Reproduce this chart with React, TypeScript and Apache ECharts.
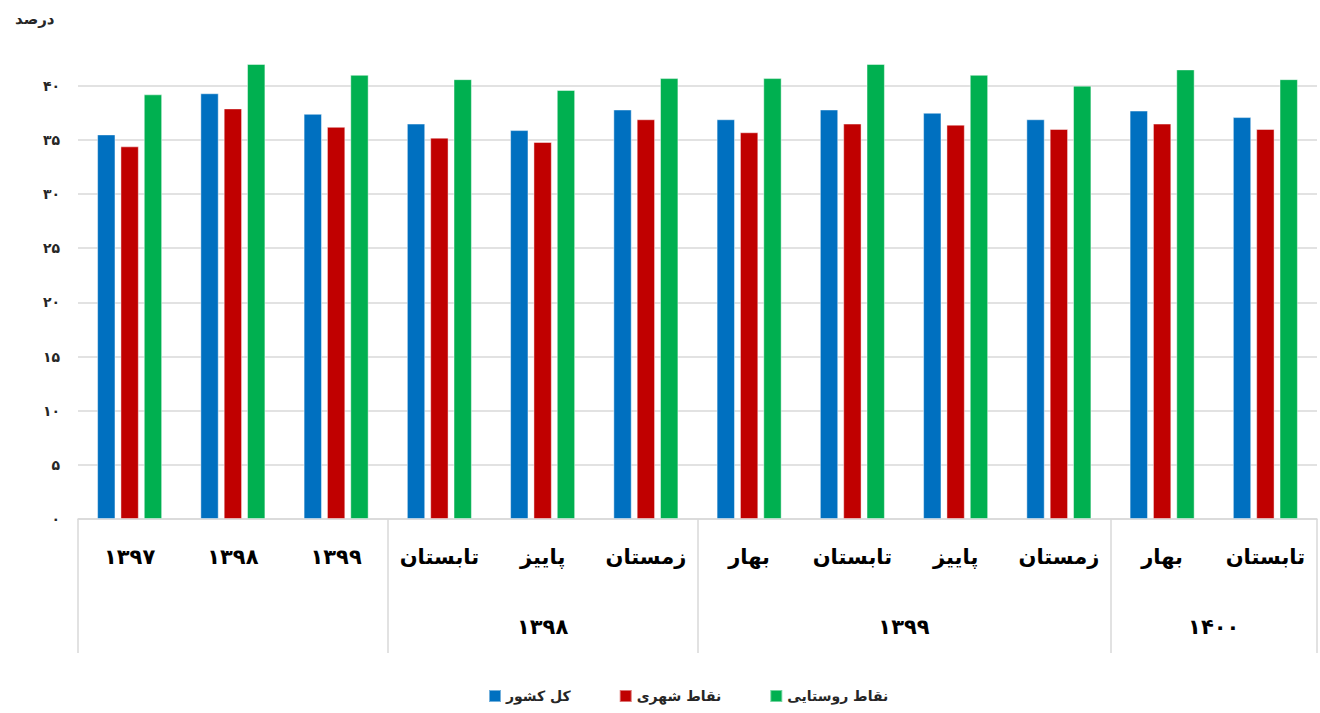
import React, { useEffect, useRef } from "react";
import * as echarts from "echarts";

const categories = ["۱۳۹۷", "۱۳۹۸", "۱۳۹۹", "تابستان", "پاییز", "زمستان", "بهار", "تابستان", "پاییز", "زمستان", "بهار", "تابستان"];
const groupNames = ["۱۳۹۸", "۱۳۹۹", "۱۴۰۰"];
const groupStarts = [3, 6, 10];
const groupEnds = [6, 10, 12];
const seriesNames = ["کل کشور", "نقاط شهری", "نقاط روستایی"];
const totalValues = [35.5, 39.3, 37.4, 36.5, 35.9, 37.8, 36.9, 37.8, 37.5, 36.9, 37.7, 37.1];
const urbanValues = [34.4, 37.9, 36.2, 35.2, 34.8, 36.9, 35.7, 36.5, 36.4, 36.0, 36.5, 36.0];
const ruralValues = [39.2, 42.0, 41.0, 40.6, 39.6, 40.7, 40.7, 42.0, 41.0, 40.0, 41.5, 40.6];
const yTickLabels = ["۰", "۵", "۱۰", "۱۵", "۲۰", "۲۵", "۳۰", "۳۵", "۴۰"];
const colors = ["#0070C0", "#C00000", "#00B050"];

const FONT = "DejaVu Sans";

export default function App() {
  const ref = useRef<HTMLDivElement>(null);
  useEffect(() => {
    if (!ref.current) return;
    const chart = echarts.init(ref.current, null, { renderer: "svg" });
    const groupCenters = groupNames.map((_, i) => (groupStarts[i] + groupEnds[i]) / 2);
    const boundaries = new Set<number>([0, ...groupStarts]);
    const values = [totalValues, urbanValues, ruralValues];
    chart.setOption({
      animation: false,
      backgroundColor: "#ffffff",
      title: {
        text: "درصد",
        left: 10,
        top: 6,
        textStyle: { fontFamily: FONT, fontSize: 15, fontWeight: "bold", color: "#262626" },
      },
      legend: {
        bottom: 5,
        left: 483,
        itemWidth: 12,
        itemHeight: 12,
        itemGap: 48,
        icon: "rect",
        textStyle: { fontFamily: FONT, fontSize: 14, fontWeight: "bold", color: "#262626" },
        data: seriesNames,
      },
      grid: { left: 78, right: 0, top: 64, bottom: 194, containLabel: false },
      xAxis: [
        {
          type: "category",
          data: categories,
          boundaryGap: true,
          axisLine: { show: true, lineStyle: { color: "#d9d9d9", width: 1.5 } },
          axisTick: {
            show: true,
            length: 134,
            interval: (index: number) => boundaries.has(index),
            lineStyle: { color: "#d9d9d9", width: 1.5 },
          },
          axisLabel: {
            interval: 0,
            margin: 27,
            fontFamily: FONT,
            fontSize: 21,
            fontWeight: "bold",
            color: "#000000",
          },
        },
        {
          type: "value",
          position: "bottom",
          min: 0,
          max: categories.length,
          interval: 0.5,
          axisLine: { show: false },
          axisTick: { show: false },
          splitLine: { show: false },
          axisLabel: {
            margin: 97,
            showMinLabel: true,
            showMaxLabel: true,
            fontFamily: FONT,
            fontSize: 21,
            fontWeight: "bold",
            color: "#000000",
            formatter: (v: number) => {
              const idx = groupCenters.findIndex((c) => Math.abs(c - v) < 1e-6);
              return idx >= 0 ? groupNames[idx] : "";
            },
          },
        },
      ],
      yAxis: {
        type: "value",
        min: 0,
        max: 42,
        interval: 5,
        axisLine: { show: false },
        axisTick: { show: false },
        splitLine: { show: true, showMaxLine: false, lineStyle: { color: "#d9d9d9", width: 1.5 } },
        axisLabel: {
          margin: 18,
          showMaxLabel: false,
          fontFamily: FONT,
          fontSize: 14,
          fontWeight: "bold",
          color: "#262626",
          formatter: (v: number) => {
            const i = Math.round(v / 5);
            return Math.abs(v - i * 5) < 1e-6 && yTickLabels[i] !== undefined ? yTickLabels[i] : "";
          },
        },
      },
      series: seriesNames.map((name, i) => ({
        name,
        type: "bar",
        xAxisIndex: 0,
        data: values[i],
        barGap: "27%",
        barCategoryGap: "37%",
        itemStyle: { color: colors[i], borderColor: "rgba(255,255,255,0.45)", borderWidth: 1 },
      })),
    });
    return () => chart.dispose();
  }, []);
  return (
    <div
      ref={ref}
      style={{ position: "fixed", left: 0, top: 0, width: 1320, height: 713 }}
    />
  );
}
